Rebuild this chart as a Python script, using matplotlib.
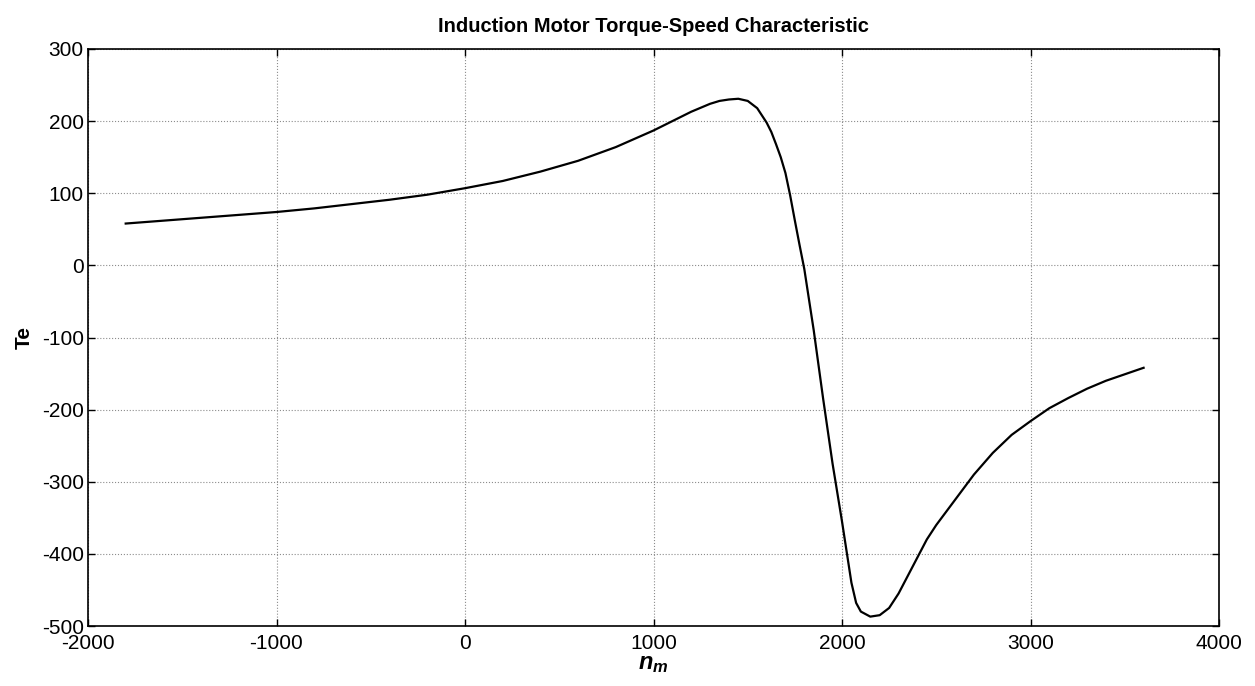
import numpy as np
import matplotlib
matplotlib.use("Agg")
import matplotlib.pyplot as plt

plt.rcParams['font.family'] = ['Liberation Sans', 'DejaVu Sans']
plt.rcParams['axes.unicode_minus'] = False
plt.rcParams['mathtext.fontset'] = 'custom'
plt.rcParams['mathtext.rm'] = 'Liberation Sans'
plt.rcParams['mathtext.it'] = 'Liberation Sans:italic'
plt.rcParams['mathtext.bf'] = 'Liberation Sans:bold'
plt.rcParams['mathtext.bfit'] = 'Liberation Sans:italic:bold'

# speed (rpm) vs electromagnetic torque
n_m = [-1800, -1600, -1400, -1200, -1000, -800, -600, -400, -200, 0,
       200, 400, 600, 800, 1000, 1100, 1200, 1300, 1350, 1400,
       1450, 1500, 1550, 1600, 1625, 1650, 1675, 1700, 1725, 1750,
       1775, 1800, 1850, 1900, 1950, 2000, 2050, 2075, 2100, 2150,
       2200, 2250, 2300, 2350, 2400, 2450, 2500, 2600, 2700, 2800,
       2900, 3000, 3100, 3200, 3300, 3400, 3500, 3600]
Te = [58, 62, 66, 70, 74, 79, 85, 91, 98, 107,
      117, 130, 145, 164, 187, 200, 213, 224, 228, 230,
      231, 228, 218, 198, 185, 168, 150, 128, 97, 62,
      28, -5, -90, -185, -275, -355, -440, -468, -480, -487,
      -485, -475, -455, -430, -405, -380, -360, -325, -290, -260,
      -235, -216, -198, -184, -171, -160, -151, -142]

fig = plt.figure(figsize=(12.55, 6.86), dpi=100)
ax = fig.add_axes([88 / 1255, 1 - 626 / 686, (1219 - 88) / 1255, (626 - 49) / 686])

ax.plot(n_m, Te, color='black', linewidth=1.6)

ax.set_xlim(-2000, 4000)
ax.set_ylim(-500, 300)
ax.set_xticks(np.arange(-2000, 4001, 1000))
ax.set_yticks(np.arange(-500, 301, 100))
ax.grid(True, color='#8c8c8c', linestyle=':', linewidth=0.8)
ax.tick_params(direction='in', top=True, right=True, labelsize=15, length=5, width=1)
ax.tick_params(axis='x', pad=6)
ax.tick_params(axis='y', pad=3)
for s in ax.spines.values():
    s.set_linewidth(1.2)
    s.set_color('black')

ax.set_title('Induction Motor Torque-Speed Characteristic', fontsize=14.5, fontweight='bold', pad=12)
ax.set_xlabel(r'$\mathbfit{n}_\mathbfit{m}$', fontsize=17, labelpad=0)
ax.set_ylabel('Te', fontsize=15, fontweight='bold', labelpad=6)

fig.savefig('out.png', dpi=100)
